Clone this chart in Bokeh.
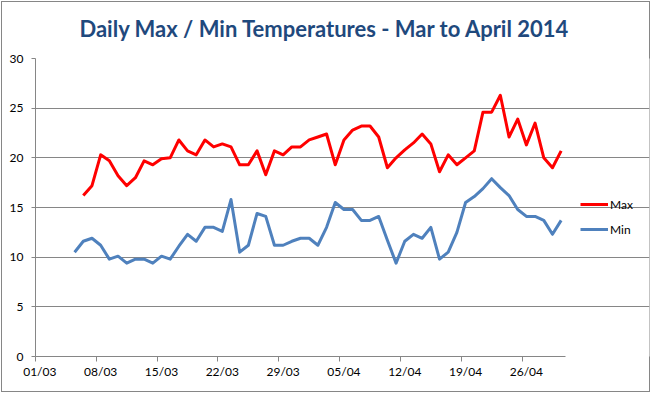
import pandas as pd
from bokeh.plotting import figure
from bokeh.models import (Range1d, FixedTicker, Legend, LegendItem, Title, LinearAxis)
from bokeh.embed import file_html
from bokeh.resources import INLINE

# ---- data -------------------------------------------------------------
axis_start = "2014-03-01"
axis_end = "2014-05-01"
tick_dates = ["2014-03-01", "2014-03-08", "2014-03-15", "2014-03-22", "2014-03-29",
              "2014-04-05", "2014-04-12", "2014-04-19", "2014-04-26"]
tick_labels = ["01/03", "08/03", "15/03", "22/03", "29/03",
               "05/04", "12/04", "19/04", "26/04"]

max_dates = pd.date_range("2014-03-06", "2014-04-30", freq="D")
max_temps = [16.2, 17.2, 20.3, 19.7, 18.2, 17.2, 18.0, 19.7, 19.3, 19.9, 20.0, 21.8, 20.7,
             20.3, 21.8, 21.1, 21.4, 21.1, 19.3, 19.3, 20.7, 18.3, 20.7, 20.3, 21.1, 21.1,
             21.8, 22.1, 22.4, 19.3, 21.8, 22.8, 23.2, 23.2, 22.1, 19.0,
             20.0, 20.8, 21.5, 22.4, 21.4, 18.6, 20.3, 19.3, 20.0, 20.7,
             24.6, 24.6, 26.3, 22.1, 23.9, 21.3, 23.5, 20.0, 19.0, 20.7]

min_dates = pd.date_range("2014-03-05", "2014-04-30", freq="D")
min_temps = [10.5, 11.6, 11.9, 11.2, 9.8, 10.1, 9.4, 9.8, 9.8, 9.4, 10.1, 9.8, 11.1, 12.3,
             11.6, 13.0, 13.0, 12.6, 15.8, 10.5, 11.2, 14.4, 14.1, 11.2, 11.2, 11.6, 11.9,
             11.9, 11.2, 13.0, 15.5, 14.8, 14.8, 13.7, 13.7, 14.1, 11.7,
             9.4, 11.6, 12.3, 11.9, 13.0, 9.8, 10.5, 12.5, 15.5, 16.1,
             16.9, 17.9, 17.0, 16.2, 14.8, 14.1, 14.1, 13.7, 12.3, 13.7]

y_ticks = [0, 5, 10, 15, 20, 25, 30]

# ---- helpers: day offsets from axis start (points centred in their day) ----
t0 = pd.Timestamp(axis_start)
def day_pos(dates, centre=0.0):
    return [(pd.Timestamp(d) - t0).days + centre for d in dates]

x_max = day_pos(max_dates, 0.5)
x_min = day_pos(min_dates, 0.5)
x_ticks = day_pos(tick_dates)
x_label_pos = day_pos(tick_dates, 0.5)
x_end = day_pos([axis_end])[0]

FONT = "Lato"
GRID = "#868686"
W, H = 651, 393
BL, BR, BT, BB = 35, 2, 57, 37
FRAME_W = W - BL - BR          # frame incl. legend area
PLOT_W = 530                   # width of the date axis
view_end = x_end * FRAME_W / PLOT_W

p = figure(width=W, height=H, output_backend="svg", toolbar_location=None,
           x_range=Range1d(0, view_end), y_range=Range1d(0, 30),
           x_axis_location=None,
           min_border_left=BL, min_border_right=BR, min_border_top=BT, min_border_bottom=BB)
p.styles = {"background-color": "white",
            "box-shadow": "inset 0 0 0 1px white, inset 0 0 0 2px #868686"}

p.title = Title(text="Daily Max / Min Temperatures - Mar to April 2014",
                align="left", vertical_align="top", text_font=FONT, text_font_size="22px",
                text_font_style="bold", text_color="#1F497D", offset=44, standoff=29)

p.outline_line_color = None
p.background_fill_color = "white"
p.border_fill_alpha = 0

# x axis: labels centred in their day, tick marks (minor) at day boundaries
x_ax = LinearAxis(ticker=FixedTicker(ticks=x_label_pos, minor_ticks=x_ticks),
                  bounds=(0, x_end),
                  axis_line_color=GRID, major_tick_line_color=None,
                  major_tick_out=0, major_tick_in=0,
                  minor_tick_line_color=GRID, minor_tick_out=5, minor_tick_in=0,
                  major_label_overrides={float(t): l for t, l in zip(x_label_pos, tick_labels)},
                  major_label_text_font=FONT, major_label_text_font_size="12px",
                  major_label_text_color="black", major_label_standoff=2)
p.add_layout(x_ax, "below")

p.yaxis.ticker = FixedTicker(ticks=y_ticks)
ya = p.yaxis[0]
ya.axis_line_color = GRID
ya.major_tick_line_color = GRID
ya.major_tick_out = 4
ya.major_tick_in = 0
ya.minor_tick_line_color = None
ya.major_label_text_font = FONT
ya.major_label_text_font_size = "12px"
ya.major_label_text_color = "black"
ya.major_label_standoff = 8

p.xgrid.grid_line_color = None
p.ygrid.grid_line_color = GRID
p.ygrid.grid_line_width = 1
p.ygrid.bounds = (0, x_end)

r_max = p.line(x_max, max_temps, line_color="#FF0000", line_width=3, line_join="round")
r_min = p.line(x_min, min_temps, line_color="#4F81BD", line_width=3, line_join="round")

legend = Legend(items=[LegendItem(label="Max", renderers=[r_max]),
                       LegendItem(label="Min", renderers=[r_min])],
                location=(545, 118), orientation="vertical",
                glyph_width=28, glyph_height=18, spacing=7, padding=0, margin=0,
                label_standoff=2, label_text_font=FONT, label_text_font_size="12px",
                label_text_color="black", border_line_color=None,
                background_fill_alpha=0)
p.add_layout(legend)

open("out.html", "w").write(file_html(p, INLINE))
